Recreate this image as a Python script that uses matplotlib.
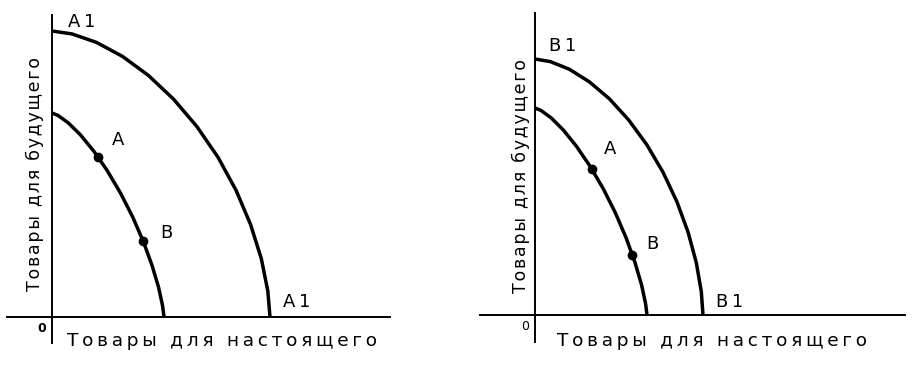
import matplotlib
matplotlib.use("Agg")
import matplotlib.pyplot as plt

plt.rcParams['font.family'] = ['DejaVu Sans']

# ---- data (origin at 0) ----
# left panel
left_outer_x = [0, 19.9, 44.5, 70.5, 96.5, 121.6, 145.0, 166.1, 184.1, 198.6, 209.3, 215.8, 218]
left_outer_y = [286, 283.1, 274.6, 260.6, 241.5, 217.8, 190.3, 159.6, 126.6, 92.4, 58.4, 26.1, 0]
left_inner_x = [0, 6.1, 16.3, 28.4, 41.6, 55.1, 68.3, 80.5, 91.2, 100.0, 106.6, 110.6, 112]
left_inner_y = [204, 201.5, 194.1, 182.2, 166.1, 146.6, 124.3, 100.4, 75.8, 51.7, 29.6, 11.1, 0]
left_points_x = [46, 91]
left_points_y = [160, 76]
left_point_labels = ["A", "B"]
left_curve_label = "A1"

# right panel
right_outer_x = [0, 15.3, 34.3, 54.3, 74.4, 93.7, 111.8, 128.0, 141.9, 153.1, 161.3, 166.3, 168]
right_outer_y = [256, 253.4, 245.8, 233.2, 216.2, 195.0, 170.3, 142.8, 113.3, 82.7, 52.3, 23.4, 0]
right_inner_x = [0, 6.1, 16.3, 28.4, 41.6, 55.1, 68.3, 80.5, 91.2, 100.0, 106.6, 110.6, 112]
right_inner_y = [207, 204.5, 197.0, 184.9, 168.5, 148.7, 126.2, 101.9, 76.9, 52.5, 30.0, 11.3, 0]
right_points_x = [57, 97]
right_points_y = [146, 60]
right_point_labels = ["A", "B"]
right_curve_label = "B1"

x_title = "Товары для настоящего"
y_title = "Товары для будущего"
origin_label = "0"

W, H = 920, 366
fig = plt.figure(figsize=(W / 100, H / 100), dpi=100)
fig.patch.set_facecolor("white")


def spaced(s, gap="\u2009", wgap="\u2009 \u2009"):
    # wide letter spacing as in the scanned original
    return wgap.join(gap.join(w) for w in s.split(" "))


def make_axes(x0, x1, ytop, ybot, ox, oy):
    ax = fig.add_axes([x0 / W, (H - ybot) / H, (x1 - x0) / W, (ybot - ytop) / H])
    ax.set_xlim(x0 - ox, x1 - ox)
    ax.set_ylim(oy - ybot, oy - ytop)
    for s in ("top", "right"):
        ax.spines[s].set_visible(False)
    ax.spines["left"].set_position(("data", 0))
    ax.spines["bottom"].set_position(("data", 0))
    for s in ("left", "bottom"):
        ax.spines[s].set_linewidth(1.4)
        ax.spines[s].set_color("black")
    ax.set_xticks([])
    ax.set_yticks([])
    ax.patch.set_alpha(0)
    return ax


LW = 2.5
FS = 13


def draw_panel(ax, ox, oy, ix, iy, px, py, plabels, clabel, pos):
    ax.plot(ox, oy, color="black", lw=LW, solid_joinstyle="round", solid_capstyle="butt")
    ax.plot(ix, iy, color="black", lw=LW, solid_joinstyle="round", solid_capstyle="butt")
    ax.plot(px, py, "o", color="black", ms=6)
    ax.text(*pos["top"], spaced(clabel), fontsize=FS, ha="center", va="center")
    ax.text(*pos["bot"], spaced(clabel), fontsize=FS, ha="center", va="center")
    ax.text(*pos["A"], plabels[0], fontsize=FS, ha="center", va="center")
    ax.text(*pos["B"], plabels[1], fontsize=FS, ha="center", va="center")
    ax.text(*pos["xt"], spaced(x_title), fontsize=13.3, ha="center", va="center")
    ax.text(*pos["yt"], spaced(y_title, "\u200a", "\u2009 "), fontsize=12.5,
            ha="center", va="center", rotation=90)


# ---------- left panel ----------
axL = make_axes(7, 390, 15, 343, 52, 317)
draw_panel(axL, left_outer_x, left_outer_y, left_inner_x, left_inner_y,
           left_points_x, left_points_y, left_point_labels, left_curve_label,
           {"top": (30, 295), "bot": (245, 15), "A": (66, 177), "B": (114, 84),
            "xt": (170, -24), "yt": (-17, 143)})
axL.text(-10, -12, origin_label, fontsize=9, fontweight="bold", ha="center", va="center")

# ---------- right panel ----------
axR = make_axes(480, 905, 13, 342, 535, 315)
draw_panel(axR, right_outer_x, right_outer_y, right_inner_x, right_inner_y,
           right_points_x, right_points_y, right_point_labels, right_curve_label,
           {"top": (28, 269), "bot": (195, 13), "A": (75, 166), "B": (117, 71),
            "xt": (177, -26), "yt": (-14, 139)})
axR.text(-10, -11, origin_label, fontsize=9, ha="center", va="center")

fig.savefig("out.png", dpi=100, facecolor="white")
